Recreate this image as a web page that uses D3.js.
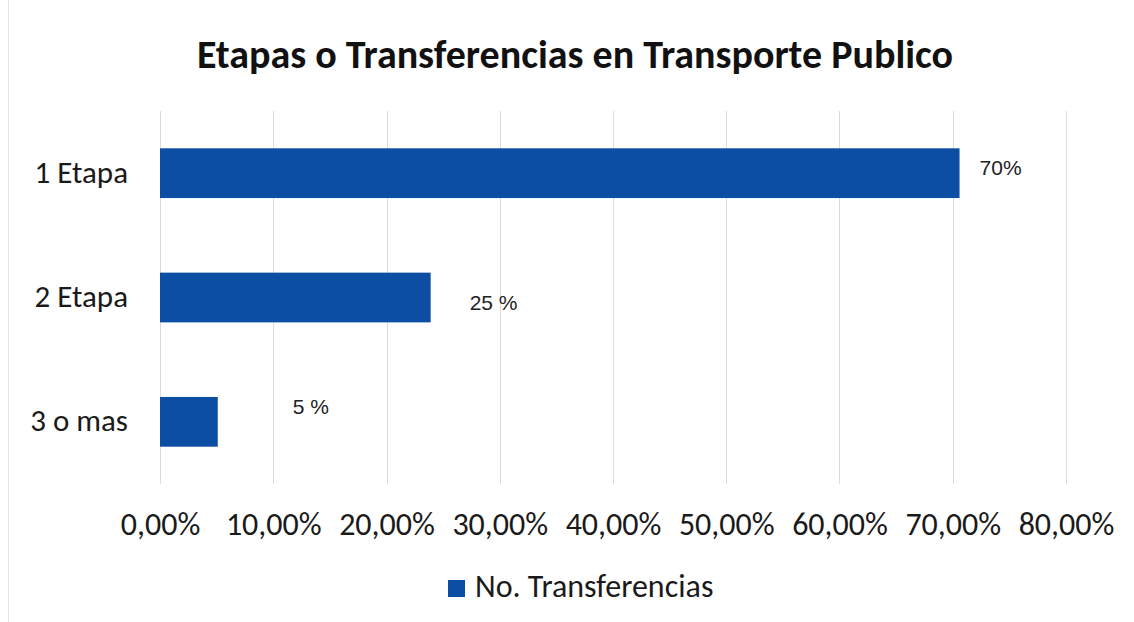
<!DOCTYPE html>
<html>
<head>
<meta charset="utf-8">
<script src="https://cdn.jsdelivr.net/npm/d3@7"></script>
<style>
  body { margin: 0; background: #fff; }
  svg { display: block; }
  .tick text { font-family: Carlito, "Open Sans", sans-serif; }
</style>
</head>
<body>
<div id="chart"></div>
<script>
// data
var categories = ["1 Etapa", "2 Etapa", "3 o mas"];
var values = [0.706, 0.239, 0.051];
var valueLabels = ["70%", "25 %", "5 %"];
var tickValues = [0, 0.1, 0.2, 0.3, 0.4, 0.5, 0.6, 0.7, 0.8];
var seriesName = "No. Transferencias";
var title = "Etapas o Transferencias en Transporte Publico";

var width = 1134, height = 622;
var margin = {top: 111, right: 68, bottom: 138, left: 160};
var blue = "#0c4ea3";

var svg = d3.select("#chart").append("svg")
    .attr("width", width).attr("height", height);

// chart frame
svg.append("rect")
    .attr("x", 8.5).attr("y", -2).attr("width", width - 2).attr("height", height + 4)
    .attr("fill", "#fff").attr("stroke", "#e4e4e4");

var x = d3.scaleLinear().domain([0, 0.8]).range([margin.left, width - margin.right]);
var y = d3.scaleBand().domain(categories)
    .range([margin.top, height - margin.bottom]).paddingInner(0.6).paddingOuter(0.3);

// gridlines
svg.append("g").selectAll("line")
    .data(tickValues).enter().append("line")
    .attr("x1", function(d) { return Math.round(x(d)) + 0.5; })
    .attr("x2", function(d) { return Math.round(x(d)) + 0.5; })
    .attr("y1", margin.top).attr("y2", height - margin.bottom)
    .attr("stroke", "#dcdcdc").attr("stroke-width", 1);

// x axis (labels only)
var fmt = function(d) { return d3.format(".2%")(d).replace(".", ","); };
var xAxis = svg.append("g")
    .attr("transform", "translate(0," + (height - margin.bottom) + ")")
    .call(d3.axisBottom(x).tickValues(tickValues).tickFormat(fmt).tickSize(0).tickPadding(0));
xAxis.select(".domain").remove();
xAxis.selectAll("text").attr("dy", null).attr("y", 51)
    .attr("font-size", 32).attr("fill", "#1a1a1a");

// y axis (labels only)
var yAxis = svg.append("g")
    .attr("transform", "translate(" + margin.left + ",0)")
    .call(d3.axisLeft(y).tickSize(0).tickPadding(0));
yAxis.select(".domain").remove();
yAxis.selectAll("text").attr("dy", null).attr("x", -32).attr("y", 9.5)
    .attr("font-size", 31).attr("fill", "#1a1a1a");

// bars
svg.append("g").selectAll("rect")
    .data(values).enter().append("rect")
    .attr("x", x(0))
    .attr("y", function(d, i) { return y(categories[i]); })
    .attr("width", function(d) { return x(d) - x(0); })
    .attr("height", y.bandwidth())
    .attr("fill", blue);

// data labels (placed by hand in the original)
var labelDx = [20, 39, 75];
var labelDy = [1.5, 12, -8];
svg.append("g").selectAll("text")
    .data(values).enter().append("text")
    .attr("x", function(d, i) { return x(d) + labelDx[i]; })
    .attr("y", function(d, i) { return y(categories[i]) + y.bandwidth() / 2 + labelDy[i]; })
    .attr("font-family", "'Liberation Sans', Arial, sans-serif")
    .attr("font-size", 21).attr("fill", "#222")
    .text(function(d, i) { return valueLabels[i]; });

// title
svg.append("text")
    .attr("x", 575).attr("y", 68)
    .attr("text-anchor", "middle")
    .attr("font-family", "Carlito, 'Open Sans', sans-serif")
    .attr("font-weight", "bold").attr("font-size", 40).attr("fill", "#111")
    .text(title);

// legend
var legend = svg.append("g").attr("transform", "translate(448,580)");
legend.append("rect").attr("width", 17).attr("height", 17).attr("fill", blue);
legend.append("text")
    .attr("x", 27).attr("y", 17)
    .attr("font-family", "Carlito, 'Open Sans', sans-serif")
    .attr("font-size", 32).attr("fill", "#1a1a1a")
    .text(seriesName);
</script>
</body>
</html>
